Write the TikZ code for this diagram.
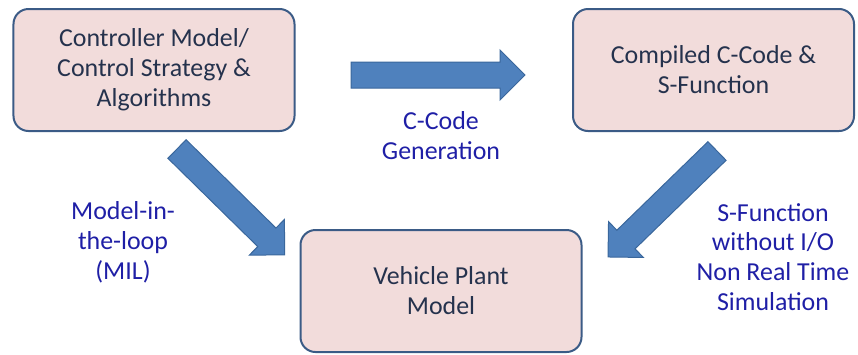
\documentclass[tikz,border=0pt]{standalone}
\usepackage{fontspec}
\setmainfont{Carlito}
\definecolor{boxfill}{HTML}{F2DCDB}
\definecolor{boxline}{HTML}{3B5B86}
\definecolor{boxtext}{HTML}{25324D}
\definecolor{labtext}{HTML}{1F1FA6}
\definecolor{arrfill}{HTML}{4F81BD}
\definecolor{arrline}{HTML}{3A679C}
\tikzset{
  stagebox/.style={draw=boxline, line width=2bp, fill=boxfill, rounded corners=15bp,
    minimum width=281bp, minimum height=122bp, align=center, text=boxtext,
    font=\fontsize{26}{30}\selectfont},
  labeltext/.style={align=center, text=labtext, font=\fontsize{26}{30}\selectfont},
  blk/.pic={\draw[draw=arrline, line width=1bp, fill=arrfill]
    (0,13) -- ({#1-25},13) -- ({#1-25},25) -- (#1,0) -- ({#1-25},-25) -- ({#1-25},-13) -- (0,-13) -- cycle;}
}
\begin{document}
\begin{tikzpicture}[x=1bp,y=-1bp]
\useasboundingbox (0,0) rectangle (858,354);
\node[stagebox] (ctrl) at (154,70) {Controller Model/\\Control Strategy \&\\Algorithms};
\node[stagebox] (comp) at (713.5,70) {Compiled C-Code \&\\S-Function};
\node[stagebox] (plant) at (441,291) {Vehicle Plant\\Model};
\coordinate (t1) at (351,75);
\coordinate (t2) at (177,149);
\coordinate (t3) at (717,151);
\pic at (t1) {blk=174};
\pic[rotate=-44.5] at (t2) {blk=151};
\pic[rotate=-135.8] at (t3) {blk=152};
\node[labeltext] (cgen) at (441,136) {C-Code\\Generation};
\node[labeltext] (mil) at (123,242) {Model-in-\\the-loop\\(MIL)};
\node[labeltext] (sfun) at (773,257) {S-Function\\without I/O\\Non Real Time\\Simulation};
\end{tikzpicture}
\end{document}
